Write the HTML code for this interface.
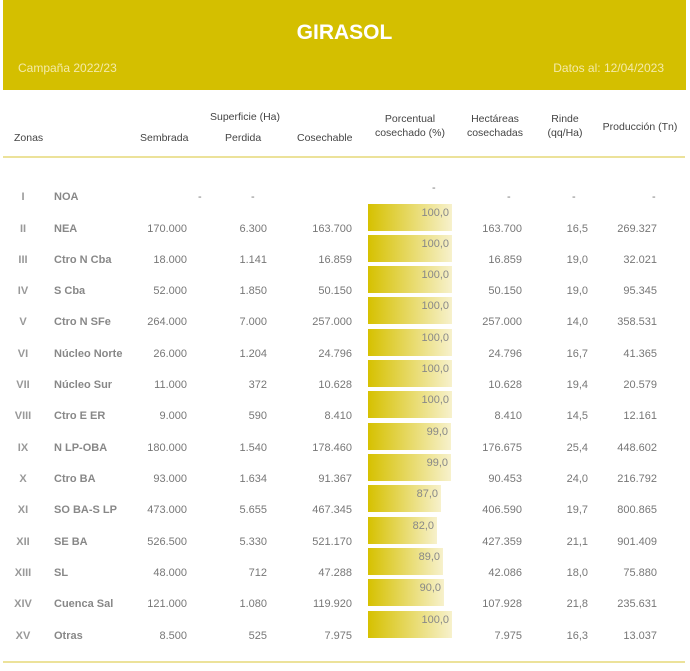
<!DOCTYPE html>
<html><head><meta charset="utf-8"><style>
body{margin:0;width:690px;height:671px;background:#fff;font-family:"Liberation Sans",sans-serif;position:relative;overflow:hidden}
.hd{position:absolute;left:3px;top:0;width:683px;height:90px;background:#D4BF00}
.t{position:absolute;left:0;width:100%;top:21px;text-align:center;color:#fff;font-weight:bold;font-size:21px}
.c{position:absolute;left:15px;top:61px;color:#f4eaa8;font-size:12px}
.d{position:absolute;right:22px;top:61px;color:#f4eaa8;font-size:12px}
.h{position:absolute;font-size:10.5px;color:#444;text-align:center;line-height:14px}
.ln{position:absolute;left:3px;width:682px;height:2px;background:#ECE29A}
.r{position:absolute;left:0;width:690px;height:14px;font-size:11px;color:#777;line-height:14px}
.r span{position:absolute;top:0;white-space:nowrap}
.n{left:0;width:46px;text-align:center;font-weight:bold;color:#999}
.z{left:54px;font-weight:bold;color:#888}
.a{right:503px}.b{right:423px}.e{right:338px}.f{right:168px}.g{right:102px}.p{right:33px}
.bar{position:absolute;left:368px;height:27px;top:-18px;background:linear-gradient(to right,#D6C100,#F7F1CC)}
.bar i{position:absolute;right:3px;top:2px;font-style:normal;font-size:11px;color:#888}
</style></head><body>
<div class="hd"><div class="t">GIRASOL</div><div class="c">Campaña 2022/23</div><div class="d">Datos al: 12/04/2023</div></div>
<div class="h" style="left:14px;top:131px">Zonas</div>
<div class="h" style="left:140px;top:131px">Sembrada</div>
<div class="h" style="left:205px;top:110px;width:80px">Superficie (Ha)</div>
<div class="h" style="left:225px;top:131px">Perdida</div>
<div class="h" style="left:297px;top:131px">Cosechable</div>
<div class="h" style="left:365px;top:112px;width:90px">Porcentual<br>cosechado (%)</div>
<div class="h" style="left:460px;top:112px;width:70px">Hectáreas<br>cosechadas</div>
<div class="h" style="left:540px;top:112px;width:50px">Rinde<br>(qq/Ha)</div>
<div class="h" style="left:600px;top:120px;width:80px">Producción (Tn)</div>
<div class="ln" style="top:156px"></div>
<div class="ln" style="top:661px"></div>

<div class="r" style="top:190px"><span class="n">I</span><span class="z">NOA</span><span style="left:198px">-</span><span style="left:251px">-</span><span style="left:432px;top:-9px">-</span><span style="left:507px">-</span><span style="left:572px">-</span><span style="left:652px">-</span></div>
<div class="r" style="top:222px"><span class="n">II</span><span class="z">NEA</span><span class="a">170.000</span><span class="b">6.300</span><span class="e">163.700</span><div class="bar" style="width:84px"><i>100,0</i></div><span class="f">163.700</span><span class="g">16,5</span><span class="p">269.327</span></div>
<div class="r" style="top:253px"><span class="n">III</span><span class="z">Ctro N Cba</span><span class="a">18.000</span><span class="b">1.141</span><span class="e">16.859</span><div class="bar" style="width:84px"><i>100,0</i></div><span class="f">16.859</span><span class="g">19,0</span><span class="p">32.021</span></div>
<div class="r" style="top:284px"><span class="n">IV</span><span class="z">S Cba</span><span class="a">52.000</span><span class="b">1.850</span><span class="e">50.150</span><div class="bar" style="width:84px"><i>100,0</i></div><span class="f">50.150</span><span class="g">19,0</span><span class="p">95.345</span></div>
<div class="r" style="top:315px"><span class="n">V</span><span class="z">Ctro N SFe</span><span class="a">264.000</span><span class="b">7.000</span><span class="e">257.000</span><div class="bar" style="width:84px"><i>100,0</i></div><span class="f">257.000</span><span class="g">14,0</span><span class="p">358.531</span></div>
<div class="r" style="top:347px"><span class="n">VI</span><span class="z">Núcleo Norte</span><span class="a">26.000</span><span class="b">1.204</span><span class="e">24.796</span><div class="bar" style="width:84px"><i>100,0</i></div><span class="f">24.796</span><span class="g">16,7</span><span class="p">41.365</span></div>
<div class="r" style="top:378px"><span class="n">VII</span><span class="z">Núcleo Sur</span><span class="a">11.000</span><span class="b">372</span><span class="e">10.628</span><div class="bar" style="width:84px"><i>100,0</i></div><span class="f">10.628</span><span class="g">19,4</span><span class="p">20.579</span></div>
<div class="r" style="top:409px"><span class="n">VIII</span><span class="z">Ctro E ER</span><span class="a">9.000</span><span class="b">590</span><span class="e">8.410</span><div class="bar" style="width:84px"><i>100,0</i></div><span class="f">8.410</span><span class="g">14,5</span><span class="p">12.161</span></div>
<div class="r" style="top:441px"><span class="n">IX</span><span class="z">N LP-OBA</span><span class="a">180.000</span><span class="b">1.540</span><span class="e">178.460</span><div class="bar" style="width:83px"><i>99,0</i></div><span class="f">176.675</span><span class="g">25,4</span><span class="p">448.602</span></div>
<div class="r" style="top:472px"><span class="n">X</span><span class="z">Ctro BA</span><span class="a">93.000</span><span class="b">1.634</span><span class="e">91.367</span><div class="bar" style="width:83px"><i>99,0</i></div><span class="f">90.453</span><span class="g">24,0</span><span class="p">216.792</span></div>
<div class="r" style="top:503px"><span class="n">XI</span><span class="z">SO BA-S LP</span><span class="a">473.000</span><span class="b">5.655</span><span class="e">467.345</span><div class="bar" style="width:73px"><i>87,0</i></div><span class="f">406.590</span><span class="g">19,7</span><span class="p">800.865</span></div>
<div class="r" style="top:535px"><span class="n">XII</span><span class="z">SE BA</span><span class="a">526.500</span><span class="b">5.330</span><span class="e">521.170</span><div class="bar" style="width:69px"><i>82,0</i></div><span class="f">427.359</span><span class="g">21,1</span><span class="p">901.409</span></div>
<div class="r" style="top:566px"><span class="n">XIII</span><span class="z">SL</span><span class="a">48.000</span><span class="b">712</span><span class="e">47.288</span><div class="bar" style="width:75px"><i>89,0</i></div><span class="f">42.086</span><span class="g">18,0</span><span class="p">75.880</span></div>
<div class="r" style="top:597px"><span class="n">XIV</span><span class="z">Cuenca Sal</span><span class="a">121.000</span><span class="b">1.080</span><span class="e">119.920</span><div class="bar" style="width:76px"><i>90,0</i></div><span class="f">107.928</span><span class="g">21,8</span><span class="p">235.631</span></div>
<div class="r" style="top:629px"><span class="n">XV</span><span class="z">Otras</span><span class="a">8.500</span><span class="b">525</span><span class="e">7.975</span><div class="bar" style="width:84px"><i>100,0</i></div><span class="f">7.975</span><span class="g">16,3</span><span class="p">13.037</span></div>
</body></html>
